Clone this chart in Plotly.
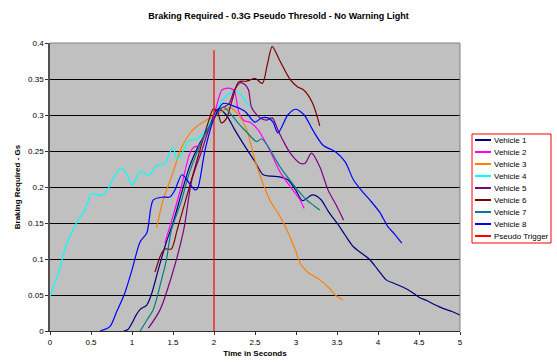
import plotly.graph_objects as go

# ---- data ----
v1_x = [0.9, 0.95, 1.0, 1.05, 1.1, 1.18, 1.24, 1.32, 1.42, 1.5, 1.6, 1.7, 1.8, 1.9, 2.0, 2.07, 2.15, 2.25, 2.38, 2.5, 2.6, 2.7, 2.8, 2.9, 3.0, 3.08, 3.2, 3.3, 3.4, 3.5, 3.6, 3.7, 3.8, 3.9, 4.0, 4.1, 4.2, 4.3, 4.4, 4.5, 4.6, 4.7, 4.8, 4.9, 5.0]
v1_y = [0.0, 0.002, 0.011, 0.022, 0.03, 0.036, 0.052, 0.085, 0.124, 0.15, 0.19, 0.228, 0.255, 0.275, 0.295, 0.307, 0.3, 0.28, 0.256, 0.235, 0.217, 0.215, 0.214, 0.21, 0.195, 0.181, 0.189, 0.183, 0.165, 0.15, 0.133, 0.117, 0.108, 0.099, 0.085, 0.071, 0.066, 0.061, 0.055, 0.047, 0.042, 0.036, 0.031, 0.027, 0.022]

v2_x = [1.4, 1.5, 1.6, 1.7, 1.75, 1.82, 1.9, 2.0, 2.1, 2.2, 2.25, 2.3, 2.37, 2.44, 2.54, 2.6, 2.68, 2.8, 2.9, 3.0, 3.05, 3.1]
v2_y = [0.122, 0.16, 0.2, 0.245, 0.255, 0.258, 0.275, 0.3, 0.335, 0.337, 0.333, 0.305, 0.292, 0.29, 0.279, 0.268, 0.251, 0.222, 0.205, 0.19, 0.182, 0.17]

v3_x = [1.3, 1.38, 1.5, 1.59, 1.71, 1.8, 1.91, 2.05, 2.2, 2.3, 2.4, 2.5, 2.58, 2.68, 2.8, 2.89, 3.0, 3.05, 3.14, 3.29, 3.4, 3.48, 3.57]
v3_y = [0.143, 0.182, 0.22, 0.251, 0.275, 0.285, 0.293, 0.302, 0.31, 0.3, 0.279, 0.237, 0.21, 0.182, 0.16, 0.14, 0.11, 0.094, 0.082, 0.071, 0.06, 0.05, 0.043]

v4_x = [0.0, 0.1, 0.15, 0.2, 0.3, 0.35, 0.4, 0.45, 0.5, 0.55, 0.62, 0.7, 0.77, 0.85, 0.9, 0.95, 1.0, 1.05, 1.1, 1.2, 1.25, 1.3, 1.4, 1.45, 1.5, 1.55, 1.6, 1.7, 1.8, 1.9, 2.0, 2.1, 2.2, 2.27, 2.35, 2.42, 2.47]
v4_y = [0.048, 0.08, 0.1, 0.12, 0.145, 0.155, 0.163, 0.175, 0.19, 0.19, 0.188, 0.196, 0.212, 0.225, 0.224, 0.214, 0.203, 0.212, 0.222, 0.216, 0.222, 0.23, 0.232, 0.245, 0.255, 0.238, 0.245, 0.265, 0.267, 0.28, 0.3, 0.32, 0.331, 0.333, 0.325, 0.314, 0.313]

v5_x = [1.2, 1.34, 1.48, 1.63, 1.73, 1.85, 1.95, 2.03, 2.1, 2.18, 2.25, 2.32, 2.38, 2.42, 2.46, 2.56, 2.64, 2.71, 2.78, 2.84, 2.93, 3.05, 3.11, 3.19, 3.29, 3.39, 3.49, 3.58]
v5_y = [0.004, 0.029, 0.075, 0.14, 0.21, 0.25, 0.285, 0.307, 0.31, 0.315, 0.335, 0.345, 0.342, 0.335, 0.31, 0.296, 0.293, 0.296, 0.279, 0.265, 0.247, 0.233, 0.233, 0.247, 0.228, 0.196, 0.175, 0.154]

v6_x = [1.28, 1.36, 1.4, 1.48, 1.55, 1.65, 1.75, 1.85, 1.93, 1.99, 2.04, 2.09, 2.15, 2.22, 2.3, 2.4, 2.5, 2.59, 2.65, 2.71, 2.8, 2.93, 3.02, 3.09, 3.2, 3.29]
v6_y = [0.082, 0.108, 0.114, 0.114, 0.14, 0.18, 0.22, 0.26, 0.29, 0.308, 0.305, 0.289, 0.295, 0.32, 0.346, 0.347, 0.351, 0.344, 0.37, 0.395, 0.376, 0.349, 0.339, 0.335, 0.317, 0.285]

v7_x = [1.1, 1.18, 1.26, 1.36, 1.42, 1.48, 1.6, 1.7, 1.8, 1.9, 2.0, 2.11, 2.2, 2.3, 2.4, 2.52, 2.58, 2.65, 2.8, 2.97, 3.13, 3.22, 3.29]
v7_y = [0.0, 0.015, 0.03, 0.071, 0.099, 0.14, 0.18, 0.22, 0.25, 0.275, 0.295, 0.311, 0.302, 0.288, 0.276, 0.263, 0.267, 0.258, 0.229, 0.203, 0.182, 0.174, 0.168]

v8_x = [0.61, 0.73, 0.81, 0.91, 1.0, 1.1, 1.18, 1.26, 1.38, 1.46, 1.52, 1.61, 1.7, 1.77, 1.8, 1.89, 2.0, 2.11, 2.25, 2.38, 2.5, 2.58, 2.66, 2.72, 2.78, 2.9, 2.99, 3.1, 3.2, 3.33, 3.48, 3.6, 3.7, 3.8, 3.9, 4.02, 4.12, 4.2, 4.29]
v8_y = [0.0, 0.006, 0.026, 0.052, 0.085, 0.124, 0.136, 0.182, 0.186, 0.186, 0.195, 0.217, 0.205, 0.196, 0.198, 0.251, 0.295, 0.316, 0.312, 0.305, 0.29, 0.296, 0.296, 0.29, 0.275, 0.3, 0.308, 0.3, 0.28, 0.258, 0.249, 0.235, 0.21, 0.195, 0.182, 0.165, 0.145, 0.135, 0.122]

trig_x = [2.0, 2.0]
trig_y = [0.0, 0.39]

names = ["Vehicle 1", "Vehicle 2", "Vehicle 3", "Vehicle 4", "Vehicle 5",
         "Vehicle 6", "Vehicle 7", "Vehicle 8", "Pseudo Trigger"]
colors = ["#000080", "#FF00FF", "#FF8000", "#00FFFF", "#800080",
          "#800000", "#008080", "#0000FF", "#FF0000"]

series = [(v1_x, v1_y), (v2_x, v2_y), (v3_x, v3_y), (v4_x, v4_y), (v5_x, v5_y),
          (v6_x, v6_y), (v7_x, v7_y), (v8_x, v8_y), (trig_x, trig_y)]

W, H = 557, 362
ML, MR, MT, MB = 50, 97, 43, 31
PW, PH = W - ML - MR, H - MT - MB


def px2paper(px, py):
    return (px - ML) / PW, (H - MB - py) / PH


fig = go.Figure()
for (xs, ys), n, c in zip(series, names, colors):
    fig.add_trace(go.Scatter(
        x=xs, y=ys, name=n, mode="lines", showlegend=False,
        line=dict(color=c, width=1.2,
                  shape="spline" if n != "Pseudo Trigger" else "linear",
                  smoothing=0.8),
    ))

shapes = []
annotations = []
# gray plot-area border on top and right (Excel style)
shapes.append(dict(type="line", xref="paper", yref="paper", x0=0, x1=1, y0=1, y1=1,
                   line=dict(color="#808080", width=1)))
shapes.append(dict(type="line", xref="paper", yref="paper", x0=1, x1=1, y0=0, y1=1,
                   line=dict(color="#808080", width=1)))

# ---- hand-drawn legend box ----
bx0, by0 = px2paper(472, 134)
bx1, by1 = px2paper(551, 243)
shapes.append(dict(type="rect", xref="paper", yref="paper", x0=bx0, y0=by1, x1=bx1, y1=by0,
                   line=dict(color="#FF0000", width=1), fillcolor="white", layer="above"))
for i, (n, c) in enumerate(zip(names, colors)):
    py = 140 + i * 12
    lx0, ly = px2paper(475, py)
    lx1, _ = px2paper(491, py)
    tx, _ = px2paper(492, py)
    shapes.append(dict(type="line", xref="paper", yref="paper", x0=lx0, x1=lx1, y0=ly, y1=ly,
                       line=dict(color=c, width=2), layer="above"))
    annotations.append(dict(text=n, xref="paper", yref="paper", x=tx, y=ly,
                            xanchor="left", yanchor="middle", showarrow=False,
                            font=dict(size=8, color="black")))

fig.update_layout(
    width=W, height=H,
    margin=dict(l=ML, r=MR, t=MT, b=MB, autoexpand=False),
    paper_bgcolor="white",
    plot_bgcolor="#C0C0C0",
    font=dict(family="Liberation Sans, Arial, sans-serif", size=8, color="black"),
    title=dict(text="<b>Braking Required - 0.3G Pseudo Thresold - No Warning Light</b>",
               x=0.5, xref="container", xanchor="center",
               y=0.955, yref="container", yanchor="middle",
               font=dict(size=9)),
    showlegend=False,
    shapes=shapes,
    annotations=annotations,
    xaxis=dict(range=[0, 5], dtick=0.5, tick0=0, showgrid=False, zeroline=False,
               showline=True, linecolor="#303030", linewidth=1,
               ticks="outside", ticklen=3, tickcolor="#303030",
               title=dict(text="<b>Time in Seconds</b>", font=dict(size=8), standoff=4)),
    yaxis=dict(range=[0, 0.4], dtick=0.05, tick0=0, showgrid=True,
               gridcolor="black", gridwidth=1, zeroline=False,
               showline=True, linecolor="#505050", linewidth=1.5,
               ticks="outside", ticklen=3, tickcolor="#303030",
               title=dict(text="<b>Braking Required - Gs</b>", font=dict(size=8), standoff=6)),
)

fig.write_html("out.html")
